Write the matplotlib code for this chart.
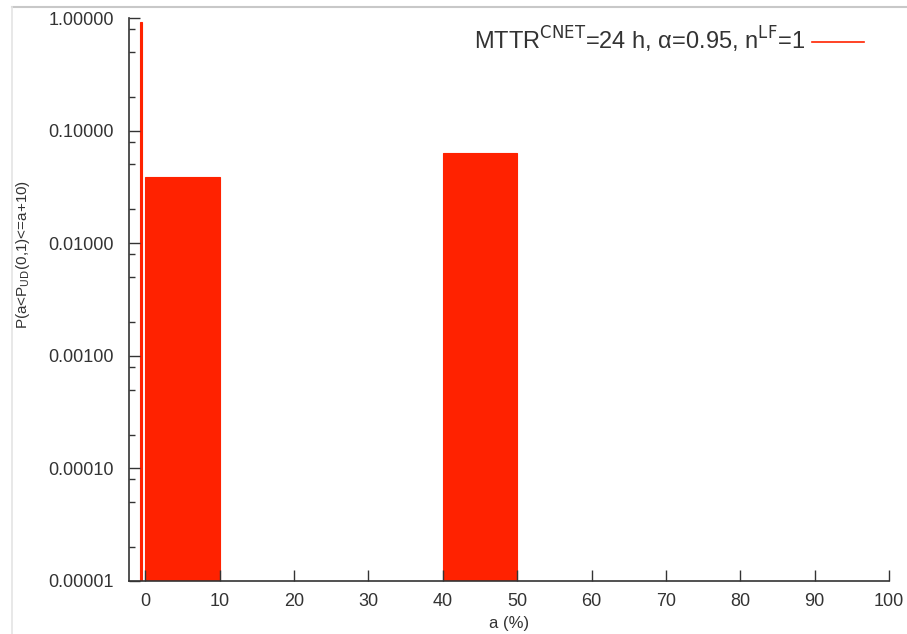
import matplotlib.pyplot as plt
from matplotlib.ticker import FormatStrFormatter, LogLocator
from matplotlib.lines import Line2D

# Datos
bin_left = [0, 40]          # inicio de cada intervalo a (%)
bin_width = 10
probs = [0.0387, 0.0632]    # P(a<P_UD(0,1)<=a+10)
spike_x = -0.6              # barra fina cerca de a=0
spike_p = 0.92
x_ticks = [0, 10, 20, 30, 40, 50, 60, 70, 80, 90, 100]
y_ticks = [1e-5, 1e-4, 1e-3, 1e-2, 1e-1, 1]

plt.rcParams['font.family'] = ['Liberation Sans', 'DejaVu Sans']

fig = plt.figure(figsize=(9.07, 6.34), dpi=100)
ax = fig.add_axes([0.1422, 0.0836, 0.838, 0.888])

rojo = '#ff2200'
ax.bar(bin_left, probs, width=bin_width, align='edge', bottom=1e-5,
       color=rojo, edgecolor=rojo, linewidth=0.8)
ax.bar([spike_x], [spike_p], width=0.35, align='center', bottom=1e-5,
       color=rojo, edgecolor=rojo, linewidth=0.8)

ax.set_yscale('log')
ax.set_ylim(1e-5, 1)
ax.set_xlim(-2.2, 100)
ax.set_xticks(x_ticks)
ax.set_yticks(y_ticks)
ax.yaxis.set_major_formatter(FormatStrFormatter('%.5f'))
ax.yaxis.set_minor_locator(LogLocator(base=10, subs=(2, 5, 8)))
ax.yaxis.set_minor_formatter(FormatStrFormatter(''))

for s in ['top', 'right']:
    ax.spines[s].set_visible(False)
for s in ['left', 'bottom']:
    ax.spines[s].set_color('#333333')
    ax.spines[s].set_linewidth(1.2)

ax.tick_params(which='major', direction='in', length=8, width=1, colors='#333333',
               labelsize=13, pad=9)
ax.tick_params(which='minor', direction='in', length=4, width=1, colors='#333333')
ax.tick_params(axis='y', pad=11)

ax.set_xlabel('a (%)', fontsize=12, color='#333333', labelpad=4)
ax.set_ylabel(r'P(a<P$_{\mathrm{UD}}$(0,1)<=a+10)', fontsize=11, color='#333333')
ax.yaxis.set_label_coords(-0.128, 0.58)

leyenda = Line2D([0], [0], color=rojo, linewidth=1.2)
ax.legend([leyenda], [r'MTTR$^{\mathrm{CNET}}$=24 h, α=0.95, n$^{\mathrm{LF}}$=1'],
          loc='upper right', bbox_to_anchor=(0.995, 1.025), frameon=False,
          markerfirst=False, fontsize=17, handlelength=2.2, handletextpad=0.3,
          labelcolor='#333333')

# marco gris de la imagen original
fig.add_artist(Line2D([0.013, 1], [0.989, 0.989], color='#c8c8c8', linewidth=1.5))
fig.add_artist(Line2D([0.013, 0.013], [0, 0.989], color='#e4e4e4', linewidth=1.2))

fig.savefig('out.png', dpi=100)
